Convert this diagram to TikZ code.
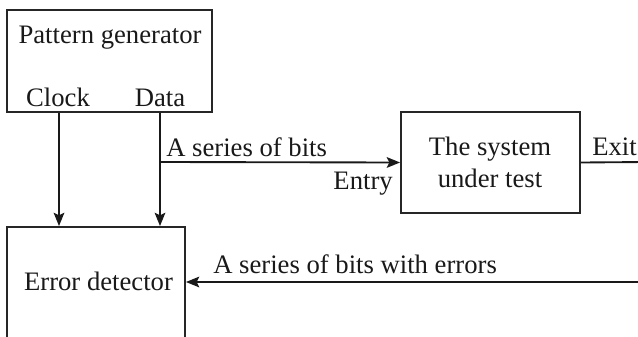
\documentclass[tikz,border=0pt]{standalone}
\usepackage{fontspec}
\setmainfont{Liberation Serif}
\usetikzlibrary{arrows.meta}
\begin{document}
\begin{tikzpicture}[x=0.75pt,y=-0.75pt,
  every node/.style={font=\fontsize{20pt}{24pt}\selectfont},
  blockbox/.style={draw=black!85,line width=1.4pt,inner sep=0pt},
  lbl/.style={inner sep=0pt,text=black!90},
  wire/.style={draw=black!90,line width=1.4pt},
  flow/.style={wire,-{Stealth[length=10pt,width=8pt,inset=2pt]}}]
  \useasboundingbox (0,0) rectangle (638,336);
  \clip (0,0) rectangle (638,336);

  % blocks
  \node[blockbox,minimum width=153.75pt,minimum height=76.5pt] (pg) at (109.5,61) {};
  \node[blockbox,minimum width=134.25pt,minimum height=75.75pt] (sut) at (490.5,162.5) {};
  \node[blockbox,minimum width=133.5pt,minimum height=99.75pt] (ed) at (96,293.5) {};

  % block texts
  \node[lbl,anchor=base] (pgt) at (110,43) {Pattern generator};
  \node[lbl,anchor=base] (clk) at (58,106) {Clock};
  \node[lbl,anchor=base] (dat) at (160,106) {Data};
  \node[lbl,anchor=base] (sut1) at (490,155) {The system};
  \node[lbl,anchor=base] (sut2) at (490,187) {under test};
  \node[lbl,anchor=base] (edt) at (98.5,290) {Error detector};

  % signal labels
  \node[lbl,anchor=base west] (bits) at (166,156) {A series of bits};
  \node[lbl,anchor=base east] (entry) at (393,189) {Entry};
  \node[lbl,anchor=base west] (exit) at (592,155) {Exit};
  \node[lbl,anchor=base west] (errs) at (213,273) {A series of bits with errors};

  % connection points
  \coordinate (clkx) at (59,0);
  \coordinate (datx) at (160,0);
  \coordinate (split) at (160,162);
  \coordinate (exitend) at (645,162);
  \coordinate (retstart) at (645,282);

  % connectors
  \draw[flow] (pg.south -| clkx) -- (ed.north -| clkx);
  \draw[flow] (pg.south -| datx) -- (ed.north -| datx);
  \draw[flow] (split) -- (sut.west);
  \draw[wire] (sut.east) -- (exitend);
  \draw[flow] (retstart) -- (retstart -| ed.east);
\end{tikzpicture}
\end{document}
